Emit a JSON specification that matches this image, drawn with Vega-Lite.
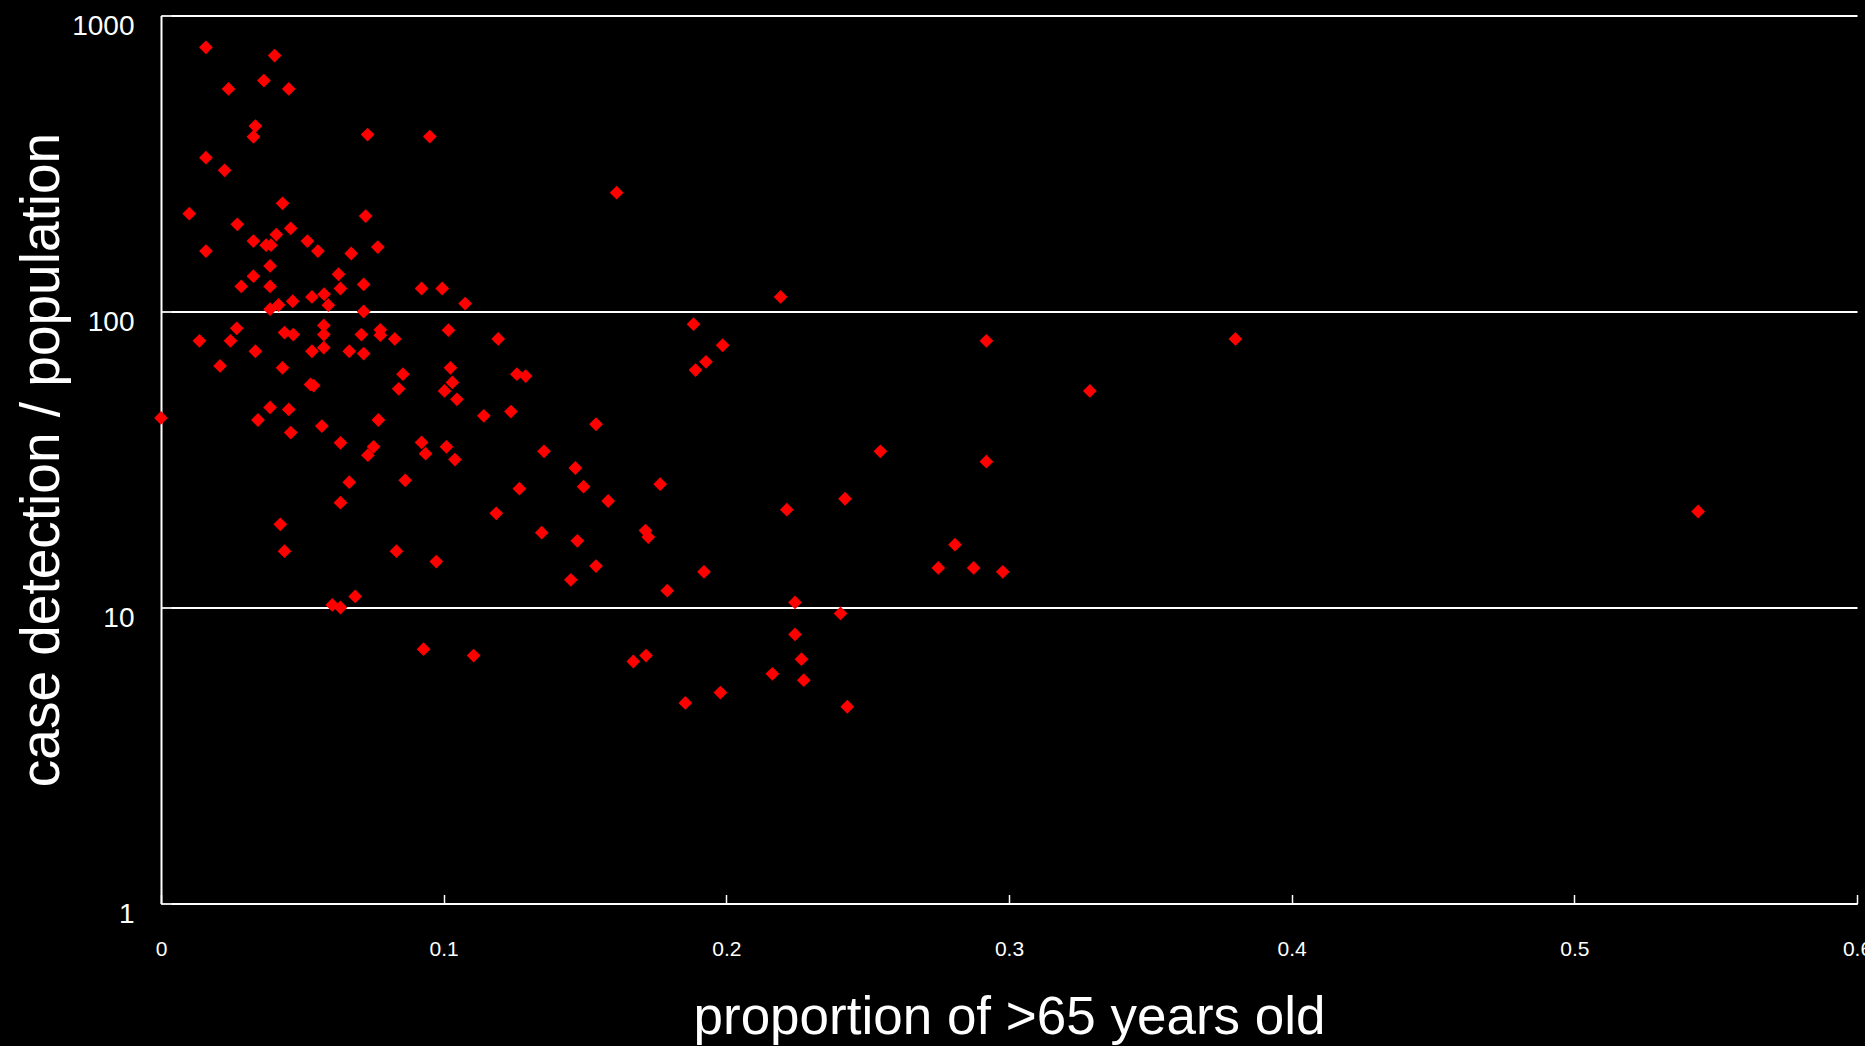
{
  "$schema": "https://vega.github.io/schema/vega-lite/v6.json",
  "width": 1696,
  "height": 888,
  "autosize": {"type": "none"},
  "padding": {"left": 161, "top": 15.5, "right": 8, "bottom": 142.5},
  "background": "#000000",
  "config": {"view": {"stroke": null}},
  "data": {"values": [
    {"p":0.0159,"c":781},{"p":0.0402,"c":732},{"p":0.0364,"c":603},{"p":0.0239,"c":565},{"p":0.0452,"c":565},
    {"p":0.0334,"c":423},{"p":0.0327,"c":389},{"p":0.0731,"c":396},{"p":0.0951,"c":390},{"p":0.0159,"c":331},
    {"p":0.0225,"c":300},{"p":0.1612,"c":252},{"p":0.0430,"c":232},{"p":0.0100,"c":214},{"p":0.0724,"c":210},
    {"p":0.0270,"c":197},{"p":0.0459,"c":191},{"p":0.0408,"c":182},{"p":0.0327,"c":173},{"p":0.0372,"c":167.5},
    {"p":0.0389,"c":167.5},{"p":0.0518,"c":173},{"p":0.0555,"c":160},{"p":0.0767,"c":165},{"p":0.0673,"c":157},
    {"p":0.0159,"c":160},{"p":0.0386,"c":142.6},{"p":0.0628,"c":133.6},{"p":0.0327,"c":131.6},{"p":0.0284,"c":121.5},
    {"p":0.0386,"c":121.5},{"p":0.0635,"c":119.6},{"p":0.0717,"c":123.4},{"p":0.0922,"c":119.6},{"p":0.0995,"c":119.6},
    {"p":0.0534,"c":112},{"p":0.0577,"c":114.4},{"p":0.0466,"c":108.3},{"p":0.0416,"c":105.2},{"p":0.0386,"c":101.8},
    {"p":0.0592,"c":105},{"p":0.0717,"c":100},{"p":0.1076,"c":106.4},{"p":0.0268,"c":87.7},{"p":0.0136,"c":79.6},
    {"p":0.0246,"c":79.6},{"p":0.0437,"c":84.9},{"p":0.0468,"c":83.6},{"p":0.0576,"c":89.7},{"p":0.0576,"c":83.6},
    {"p":0.0709,"c":83.6},{"p":0.0776,"c":86.7},{"p":0.0776,"c":83.2},{"p":0.0827,"c":80.8},{"p":0.1017,"c":86.5},
    {"p":0.1193,"c":80.8},{"p":0.0334,"c":73.4},{"p":0.0534,"c":73.4},{"p":0.0576,"c":75.5},{"p":0.0666,"c":73.4},
    {"p":0.0717,"c":72.1},{"p":0.0209,"c":65.5},{"p":0.0430,"c":64.5},{"p":0.0856,"c":61.4},{"p":0.1024,"c":64.5},
    {"p":0.1259,"c":61.4},{"p":0.1290,"c":60.5},{"p":0.0529,"c":56.7},{"p":0.0540,"c":56.2},{"p":0.0841,"c":54.8},
    {"p":0.1003,"c":53.9},{"p":0.1031,"c":57.6},{"p":0.1047,"c":50.5},{"p":0.0386,"c":47.4},{"p":0.0452,"c":46.7},
    {"p":0.0,"c":43.7},{"p":0.0343,"c":43.0},{"p":0.0459,"c":39.0},{"p":0.0569,"c":41.0},{"p":0.0769,"c":43.0},
    {"p":0.1142,"c":44.4},{"p":0.1238,"c":45.9},{"p":0.1539,"c":41.6},{"p":0.0635,"c":36.0},{"p":0.0752,"c":34.9},
    {"p":0.0732,"c":32.7},{"p":0.0922,"c":36.1},{"p":0.0936,"c":33.1},{"p":0.1010,"c":34.9},{"p":0.1040,"c":31.6},
    {"p":0.1355,"c":33.7},{"p":0.1466,"c":29.6},{"p":0.1495,"c":25.6},{"p":0.1766,"c":26.1},{"p":0.0666,"c":26.5},
    {"p":0.0864,"c":26.9},{"p":0.1268,"c":25.2},{"p":0.1582,"c":22.9},{"p":0.0635,"c":22.6},{"p":0.1186,"c":20.8},
    {"p":0.0422,"c":19.1},{"p":0.1347,"c":17.9},{"p":0.1473,"c":16.8},{"p":0.1714,"c":18.2},{"p":0.1724,"c":17.3},
    {"p":0.0437,"c":15.5},{"p":0.0833,"c":15.5},{"p":0.0974,"c":14.3},{"p":0.1539,"c":13.8},{"p":0.1450,"c":12.4},
    {"p":0.1791,"c":11.4},{"p":0.0606,"c":10.2},{"p":0.0635,"c":10.0},{"p":0.0687,"c":10.9},{"p":0.0929,"c":7.23},
    {"p":0.1106,"c":6.88},{"p":0.1671,"c":6.57},{"p":0.1716,"c":6.88},{"p":0.2192,"c":112},{"p":0.1884,"c":90.6},
    {"p":0.1987,"c":76.9},{"p":0.1928,"c":67.6},{"p":0.1891,"c":63.4},{"p":0.2920,"c":79.6},{"p":0.3286,"c":53.9},
    {"p":0.2545,"c":33.7},{"p":0.2920,"c":31.1},{"p":0.2420,"c":23.3},{"p":0.2214,"c":21.4},{"p":0.2809,"c":16.3},
    {"p":0.2750,"c":13.6},{"p":0.2875,"c":13.6},{"p":0.2978,"c":13.2},{"p":0.1921,"c":13.2},{"p":0.2243,"c":10.4},
    {"p":0.2404,"c":9.55},{"p":0.2243,"c":8.11},{"p":0.2266,"c":6.69},{"p":0.2163,"c":5.97},{"p":0.2274,"c":5.68},
    {"p":0.1979,"c":5.16},{"p":0.1855,"c":4.76},{"p":0.2428,"c":4.62},{"p":0.3801,"c":80.8},{"p":0.5438,"c":21.1}
  ]},
  "mark": {"type": "point", "shape": "diamond", "filled": true, "color": "#ff0000", "size": 190, "opacity": 1, "strokeWidth": 0},
  "encoding": {
    "x": {
      "field": "p", "type": "quantitative",
      "scale": {"domain": [0, 0.6], "nice": false, "zero": false},
      "axis": {
        "title": "proportion of >65 years old",
        "values": [0, 0.1, 0.2, 0.3, 0.4, 0.5, 0.6],
        "format": "~g",
        "grid": false,
        "domainColor": "#ffffff", "domainWidth": 2,
        "tickColor": "#ffffff", "tickWidth": 1.5, "tickSize": -9,
        "labelColor": "#ffffff", "labelFont": "Liberation Sans Narrow, Liberation Sans", "labelFontSize": 21,
        "labelBaseline": "alphabetic", "labelPadding": 61, "labelFlush": false, "labelOverlap": false,
        "titleColor": "#ffffff", "titleFont": "Liberation Sans", "titleFontSize": 53, "titleFontWeight": "normal",
        "titleBaseline": "alphabetic", "titleY": 130
      }
    },
    "y": {
      "field": "c", "type": "quantitative",
      "scale": {"type": "log", "domain": [1, 1000], "nice": false},
      "axis": {
        "title": "case detection /  population",
        "values": [1, 10, 100, 1000],
        "format": "~g",
        "grid": true, "gridColor": "#ffffff", "gridWidth": 2, "gridOpacity": 1,
        "domainColor": "#ffffff", "domainWidth": 2,
        "tickColor": "#dddddd", "tickWidth": 2, "tickSize": -10,
        "labelColor": "#ffffff", "labelFont": "Liberation Sans Narrow, Liberation Sans", "labelFontSize": 28,
        "labelBaseline": "alphabetic", "labelOffset": 19, "labelPadding": 37, "labelFlush": false, "labelOverlap": false,
        "titleColor": "#ffffff", "titleFont": "Liberation Sans", "titleFontSize": 55, "titleFontWeight": "normal",
        "titleBaseline": "alphabetic", "titleX": -103, "titleAngle": -90
      }
    }
  }
}
